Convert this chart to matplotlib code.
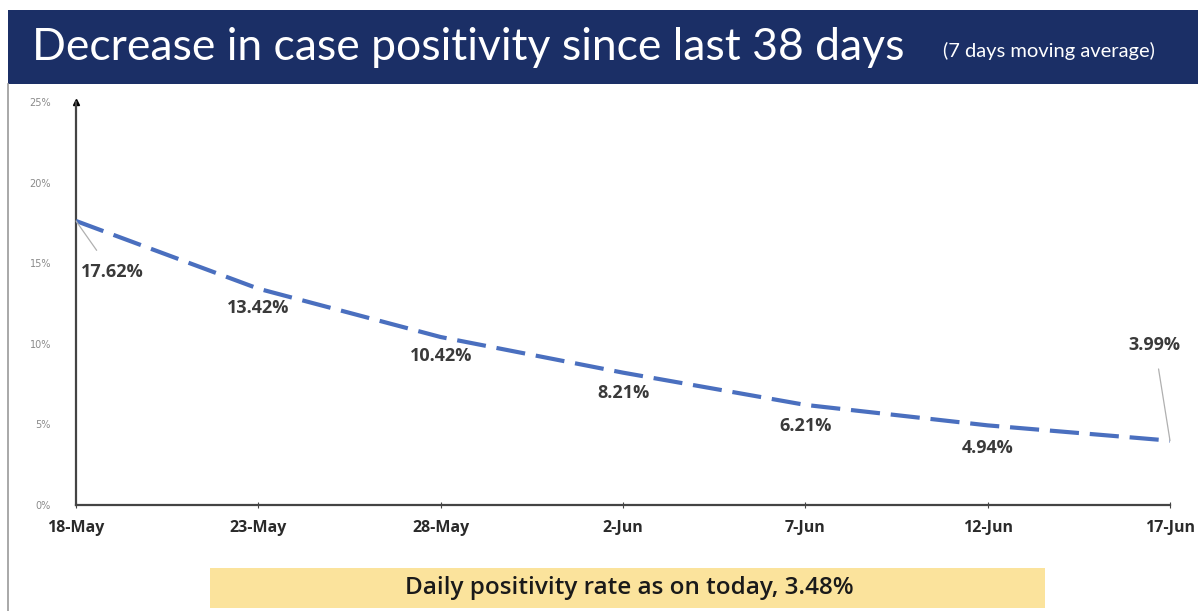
import matplotlib
matplotlib.use("Agg")
import matplotlib.pyplot as plt
import pandas as pd
from matplotlib.patches import Rectangle
from matplotlib.lines import Line2D

dates = ["2021-05-18", "2021-05-23", "2021-05-28", "2021-06-02",
         "2021-06-07", "2021-06-12", "2021-06-17"]
tick_labels = ["18-May", "23-May", "28-May", "2-Jun", "7-Jun", "12-Jun", "17-Jun"]
positivity = [17.62, 13.42, 10.42, 8.21, 6.21, 4.94, 3.99]
y_ticks = [0, 5, 10, 15, 20, 25]

title = "Decrease in case positivity since last 38 days"
subtitle = "(7 days moving average)"
footer = "Daily positivity rate as on today, 3.48%"

x = pd.to_datetime(dates)

fig = plt.figure(figsize=(11.98, 6.11), dpi=100)
fig.patch.set_facecolor("white")

# Title bar
fig.add_artist(Rectangle((8/1198, 1 - 84/611), 1 - 8/1198, 74/611,
                         transform=fig.transFigure, facecolor="#1b2f66",
                         edgecolor="none", zorder=0))
fig.text(32/1198, 1 - 47/611, title, color="white", fontsize=32,
         family="Lato", va="center", ha="left")
fig.text(943/1198, 1 - 51/611, subtitle, color="white", fontsize=14.5,
         family="Lato", va="center", ha="left")
# left border line
fig.add_artist(Line2D([8/1198, 8/1198], [0, 1 - 84/611], transform=fig.transFigure,
                      color="#9a9a9a", lw=1.2))

# Footer box
fig.add_artist(Rectangle((210/1198, 1 - 608/611), 835/1198, 40/611,
                         transform=fig.transFigure, facecolor="#fbe39c",
                         edgecolor="none"))
fig.text(629/1198, 1 - 588/611, footer, color="#1a1a1a", fontsize=17.5,
         family="Open Sans", weight="semibold", va="center", ha="center")

ax = fig.add_axes([76/1198, 1 - 505/611, (1170 - 76)/1198, (505 - 102)/611])
ax.plot(x, positivity, color="#4a6fbf", lw=3.0, dashes=(7, 2.6),
        solid_capstyle="butt", zorder=3)
ax.set_ylim(0, 25)
ax.set_xlim(x[0], x[-1])
ax.set_yticks(y_ticks)
ax.set_yticklabels([f"{v}%" for v in y_ticks], fontsize=7, color="#8a8a8a")
ax.set_xticks(x)
ax.set_xticklabels(tick_labels, fontsize=11.5, weight="bold", color="#2a2a2a",
                   family="Open Sans")
ax.tick_params(axis="y", length=0, pad=18)
ax.tick_params(axis="x", length=5, direction="inout", color="#444444", pad=8)
for s in ["top", "right"]:
    ax.spines[s].set_visible(False)
for s in ["left", "bottom"]:
    ax.spines[s].set_color("#444444")
    ax.spines[s].set_linewidth(1.6)
ax.plot([0], [1], marker="^", markersize=4, color="black",
        transform=ax.transAxes, clip_on=False)

lab_kw = dict(fontsize=13, weight="bold", color="#3a3a3a", family="Open Sans")
offsets = [(26, -37), (0, -14), (0, -14), (0, -15), (0, -15), (0, -16), (-11, 69)]
for i, (xi, v) in enumerate(zip(x, positivity)):
    dx, dy = offsets[i]
    if i == 0 or i == len(positivity) - 1:
        ax.annotate(f"{v:.2f}%", xy=(xi, v), xytext=(dx, dy), textcoords="offset points",
                    ha="center", va="center",
                    arrowprops=dict(arrowstyle="-", color="#b0b0b0", lw=0.9,
                                    shrinkA=9, shrinkB=0),
                    **lab_kw)
    else:
        ax.annotate(f"{v:.2f}%", xy=(xi, v), xytext=(dx, dy), textcoords="offset points",
                    ha="center", va="center", **lab_kw)

fig.savefig("out.png", dpi=100)
